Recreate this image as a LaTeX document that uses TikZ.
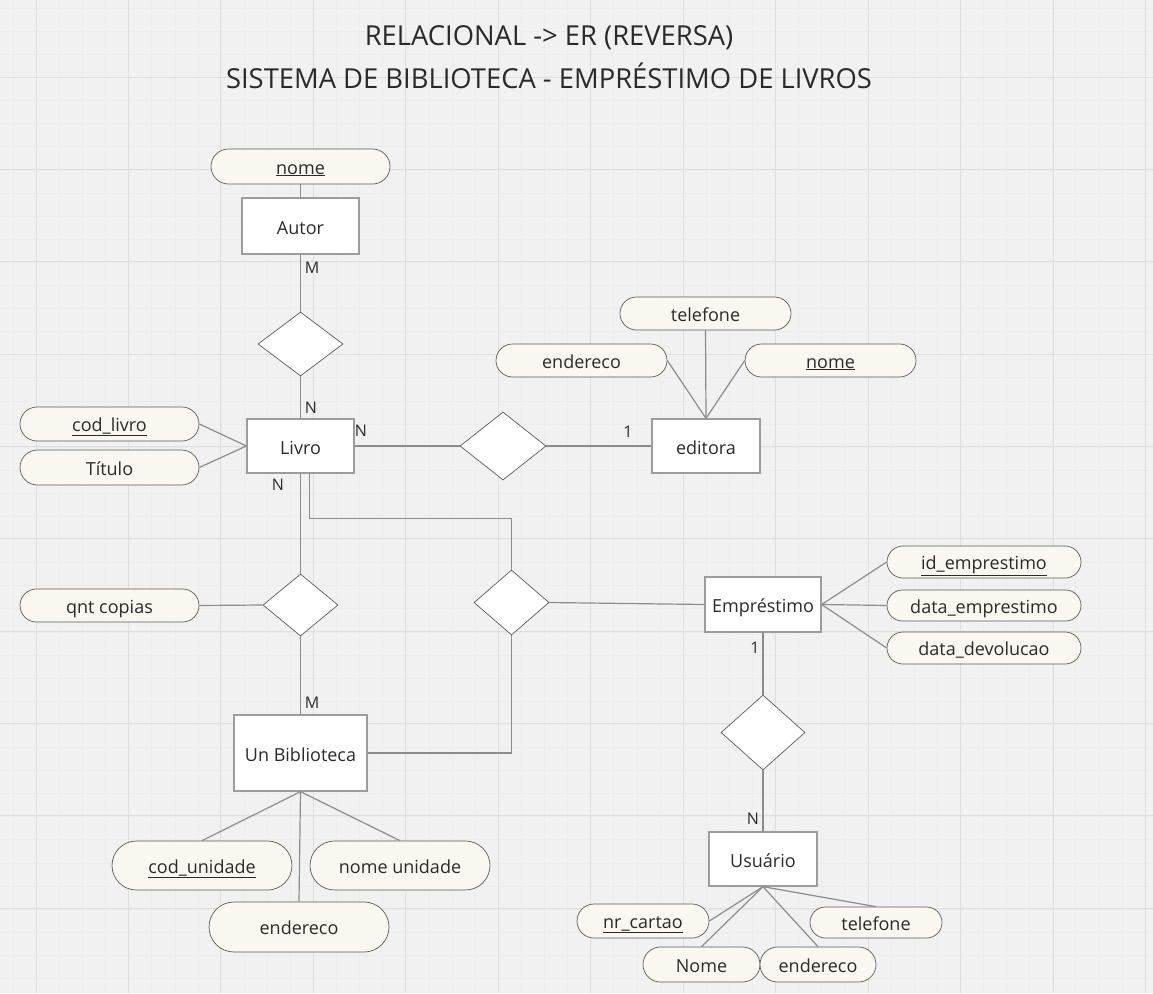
\documentclass[tikz,border=0pt]{standalone}
\usepackage{fontspec}
\setmainfont{Open Sans}
\newfontfamily\titlefont{Open Sans}[FakeStretch=0.995]
\usetikzlibrary{shapes.geometric}
\definecolor{bg}{HTML}{F1F1F1}
\definecolor{majorgrid}{HTML}{DEDEDE}
\definecolor{minorgrid}{HTML}{ECECEC}
\definecolor{rectgray}{HTML}{9C9C9C}
\definecolor{linegray}{HTML}{8C8C8C}
\definecolor{pillgray}{HTML}{5A5A5A}
\definecolor{cream}{HTML}{FAF7F0}
\definecolor{txt}{HTML}{2A2A2A}
\tikzset{
  ent/.style={draw=rectgray, fill=white, line width=1.3pt, inner sep=0pt, text=txt, text height=16pt, text depth=0pt, font=\fontsize{18}{20}\selectfont},
  rel/.style={diamond, draw=pillgray, fill=white, line width=0.7pt, inner sep=0pt},
  attr/.style={draw=pillgray, fill=cream, line width=0.7pt, inner sep=0pt, text=txt, text height=16pt, text depth=1pt, font=\fontsize{18}{20}\selectfont},
  conn/.style={draw=linegray, line width=1.2pt},
  card/.style={text=txt, inner sep=0pt, font=\fontsize{16}{18}\selectfont},
  titlestyle/.style={text=txt, inner sep=0pt, font=\titlefont\fontsize{27.5}{30}\selectfont}
}
\begin{document}
\begin{tikzpicture}[x=1pt,y=-1pt]
\useasboundingbox (0,0) rectangle (1153,993);
\fill[bg] (0,0) rectangle (1153,993);
% minor grid
\foreach \i in {0,...,50} {
  \draw[minorgrid, line width=0.4pt] ({13+23.1*\i},0) -- ++(0,993);
}
\foreach \i in {0,...,44} {
  \draw[minorgrid, line width=0.4pt] (0,{8+23.1*\i}) -- ++(1153,0);
}
% major grid
\foreach \i in {0,...,12} {
  \draw[majorgrid, line width=0.9pt] ({36+92.45*\i},0) -- ++(0,993);
}
\foreach \i in {0,...,10} {
  \draw[majorgrid, line width=0.9pt] (0,{-15+92.3*\i}) -- ++(1153,0);
}

% title
\node[titlestyle] (t1) at (549,38) {RELACIONAL -> ER (REVERSA)};
\node[titlestyle] (t2) at (549,76) {SISTEMA DE BIBLIOTECA - EMPRÉSTIMO DE LIVROS};

% entities
\node[ent, minimum width=117, minimum height=56] (autor) at (300.5,226) {Autor};
\node[ent, minimum width=107, minimum height=54] (livro) at (300.5,446) {Livro};
\node[ent, minimum width=108, minimum height=54] (edit) at (706,446) {editora};
\node[ent, minimum width=133, minimum height=76] (unb) at (300.5,753) {Un Biblioteca};
\node[ent, minimum width=116, minimum height=55] (emp) at (763,604.5) {Empréstimo};
\node[ent, minimum width=108, minimum height=54] (usu) at (763,859) {Usuário};

% relationships
\node[rel, minimum width=85, minimum height=64] (d1) at (300.5,344) {};
\node[rel, minimum width=86, minimum height=68] (d2) at (503,446) {};
\node[rel, minimum width=75, minimum height=62] (d3) at (300.5,605) {};
\node[rel, minimum width=75, minimum height=65] (d4) at (511.5,602.5) {};
\node[rel, minimum width=84, minimum height=75] (d5) at (763,732.5) {};

% attributes
\node[attr, minimum width=179, minimum height=35, rounded corners=17.5pt] (nomeA) at (300.5,166.5) {\underline{nome}};
\node[attr, minimum width=179, minimum height=34, rounded corners=17pt] (codl) at (109.5,424) {\underline{cod\_livro}};
\node[attr, minimum width=179, minimum height=35, rounded corners=17.5pt] (tit) at (109.5,467.5) {Título};
\node[attr, minimum width=171, minimum height=33, rounded corners=16.5pt] (telE) at (705.5,313.5) {telefone};
\node[attr, minimum width=171, minimum height=33, rounded corners=16.5pt] (endE) at (581.5,360.5) {endereco};
\node[attr, minimum width=171, minimum height=33, rounded corners=16.5pt] (nomeE) at (830.5,360.5) {\underline{nome}};
\node[attr, minimum width=179, minimum height=33, rounded corners=16.5pt] (qnt) at (109.5,605.5) {qnt copias};
\node[attr, minimum width=194, minimum height=32, rounded corners=16pt] (idE) at (984,562) {\underline{id\_emprestimo}};
\node[attr, minimum width=194, minimum height=31, rounded corners=15.5pt] (dtE) at (984,605.5) {data\_emprestimo};
\node[attr, minimum width=194, minimum height=32, rounded corners=16pt] (dtD) at (984,648) {data\_devolucao};
\node[attr, minimum width=180, minimum height=49, rounded corners=24.5pt] (codu) at (202,865.5) {\underline{cod\_unidade}};
\node[attr, minimum width=180, minimum height=49, rounded corners=24.5pt] (nomu) at (400,865.5) {nome unidade};
\node[attr, minimum width=180, minimum height=50, rounded corners=25pt] (endu) at (299,927) {endereco};
\node[attr, minimum width=132, minimum height=34, rounded corners=17pt] (nrc) at (643,921) {\underline{nr\_cartao}};
\node[attr, minimum width=132, minimum height=31, rounded corners=15.5pt] (telU) at (876,922.5) {telefone};
\node[attr, minimum width=117, minimum height=35, rounded corners=17.5pt] (nomeU) at (701.5,964.5) {Nome};
\node[attr, minimum width=116, minimum height=35, rounded corners=17.5pt] (endU) at (818,964.5) {endereco};

% connectors
\draw[conn] (nomeA) -- (autor);
\draw[conn] (autor) -- (d1);
\draw[conn] (d1) -- (livro);
\draw[conn] (codl.east) -- (livro.west);
\draw[conn] (tit.east) -- (livro.west);
\draw[conn] (livro.east) -- (d2.west);
\draw[conn] (d2.east) -- (edit.west);
\draw[conn] (endE.east) -- (edit.north);
\draw[conn] (telE.south) -- (edit.north);
\draw[conn] (nomeE.west) -- (edit.north);
\draw[conn] (livro.south) -- (d3.north);
\draw[conn] (qnt.east) -- (d3.west);
\draw[conn] (d3.south) -- (unb.north);
\draw[conn] ([xshift=9pt]livro.south) -- ++(0,45) -| (d4.north);
\draw[conn] (d4.south) |- (unb.east);
\draw[conn] (d4.east) -- (emp.west);
\draw[conn] (emp.east) -- (idE.west);
\draw[conn] (emp.east) -- (dtE.west);
\draw[conn] (emp.east) -- (dtD.west);
\draw[conn] (emp.south) -- (d5.north);
\draw[conn] (d5.south) -- (usu.north);
\draw[conn] (unb.south) -- (codu.north);
\draw[conn] (unb.south) -- (nomu.north);
\draw[conn] (unb.south) -- (endu.north);
\draw[conn] (usu.south) -- (nrc.east);
\draw[conn] (usu.south) -- (nomeU.north);
\draw[conn] (usu.south) -- (endU.north);
\draw[conn] (usu.south) -- (telU.north);

% cardinalities
\node[card] (cM1) at (312,268) {M};
\node[card] (cN1) at (311,408) {N};
\node[card] (cN2) at (361,431) {N};
\node[card] (c12) at (628,432) {1};
\node[card] (cN3) at (278,485) {N};
\node[card] (cM2) at (312,703) {M};
\node[card] (c15) at (755,648) {1};
\node[card] (cN5) at (753,819) {N};
\end{tikzpicture}
\end{document}
